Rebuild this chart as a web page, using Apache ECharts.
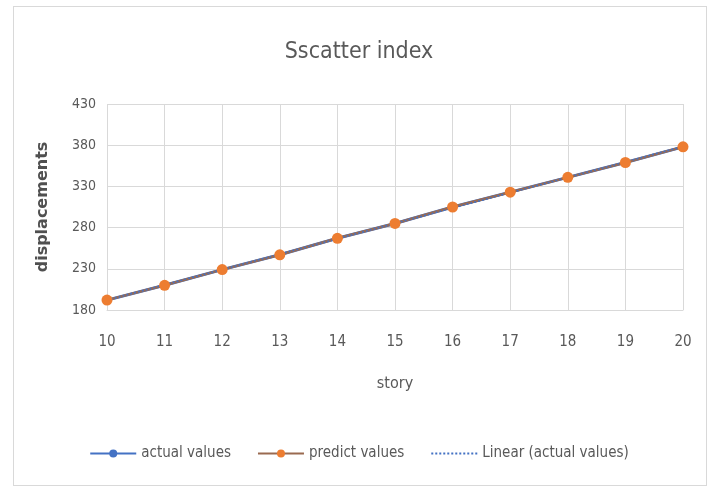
<!DOCTYPE html>
<html>
<head>
<meta charset="utf-8">
<script src="https://cdn.jsdelivr.net/npm/echarts@6/dist/echarts.min.js"></script>
<style>
html,body{margin:0;padding:0;background:#fff;}
#frame{position:absolute;left:13px;top:6px;width:694px;height:480px;border:1px solid #d9d9d9;box-sizing:border-box;}
#chart{position:absolute;left:0;top:0;width:718px;height:489px;}
</style>
</head>
<body>
<div id="frame"></div>
<div id="chart"></div>
<script>
const stories = [10, 11, 12, 13, 14, 15, 16, 17, 18, 19, 20];
const actualValues = [192, 210, 229, 247, 267, 285, 305, 323, 341, 359, 378];
const predictValues = [192, 210, 229, 247, 267, 285, 305, 323, 341, 359, 378];
const yTicks = [180, 230, 280, 330, 380, 430];

// least-squares trend line of the actual values (Excel "Linear" trendline)
const n = stories.length;
const mx = stories.reduce((a, b) => a + b, 0) / n;
const my = actualValues.reduce((a, b) => a + b, 0) / n;
let sxy = 0, sxx = 0;
for (let i = 0; i < n; i++) { sxy += (stories[i] - mx) * (actualValues[i] - my); sxx += (stories[i] - mx) ** 2; }
const slope = sxy / sxx, icpt = my - slope * mx;
const trend = [[stories[0], icpt + slope * stories[0]], [stories[n - 1], icpt + slope * stories[n - 1]]];

const FONT = "'Liberation Sans Narrow','DejaVu Sans Condensed',sans-serif";
const chart = echarts.init(document.getElementById('chart'), null, {renderer: 'canvas'});
chart.setOption({
  animation: false,
  backgroundColor: 'transparent',
  title: {
    text: 'Sscatter index', left: 'center', top: 36,
    textStyle: {fontFamily: FONT, fontSize: 23, fontWeight: 'normal', color: '#595959'}
  },
  grid: {left: 107, right: 35, top: 104, bottom: 179},
  xAxis: {
    type: 'value', min: 10, max: 20, interval: 1,
    name: 'story', nameLocation: 'middle', nameGap: 66,
    nameTextStyle: {fontFamily: FONT, fontSize: 16, color: '#595959'},
    axisLine: {lineStyle: {color: '#d9d9d9'}},
    axisTick: {show: false},
    axisLabel: {fontFamily: FONT, fontSize: 15, color: '#595959', margin: 25},
    splitLine: {show: true, lineStyle: {color: '#d9d9d9'}}
  },
  yAxis: {
    type: 'value', min: yTicks[0], max: yTicks[yTicks.length - 1], interval: 50,
    name: 'displacements', nameLocation: 'middle', nameGap: 56, nameRotate: 90,
    nameTextStyle: {fontFamily: "'DejaVu Sans',sans-serif", fontSize: 16, color: '#505050', fontWeight: 'bold'},
    axisLine: {show: false},
    axisTick: {show: false},
    axisLabel: {fontFamily: FONT, fontSize: 14, color: '#595959', margin: 11},
    splitLine: {show: true, lineStyle: {color: '#d9d9d9'}}
  },
  legend: {
    bottom: 23, left: 'center', itemGap: 26, itemWidth: 46, itemHeight: 10,
    textStyle: {fontFamily: FONT, fontSize: 15, color: '#595959'},
    data: [
      {name: 'actual values'},
      {name: 'predict values'},
      {name: 'Linear (actual values)', itemStyle: {opacity: 0}}
    ]
  },
  series: [
    {
      name: 'actual values', type: 'line',
      data: stories.map((s, i) => [s, actualValues[i]]),
      symbol: 'circle', symbolSize: 8,
      itemStyle: {color: '#4472C4'},
      lineStyle: {color: '#4472C4', width: 3}
    },
    {
      name: 'predict values', type: 'line',
      data: stories.map((s, i) => [s, predictValues[i]]),
      symbol: 'circle', symbolSize: 11,
      itemStyle: {color: '#ED7D31'},
      lineStyle: {color: '#9a6a50', width: 2.5}
    },
    {
      name: 'Linear (actual values)', type: 'line',
      data: trend, symbol: 'none',
      itemStyle: {color: '#4472C4'},
      lineStyle: {color: '#4472C4', width: 1.5, type: [2, 2]}
    }
  ]
});
</script>
</body>
</html>
